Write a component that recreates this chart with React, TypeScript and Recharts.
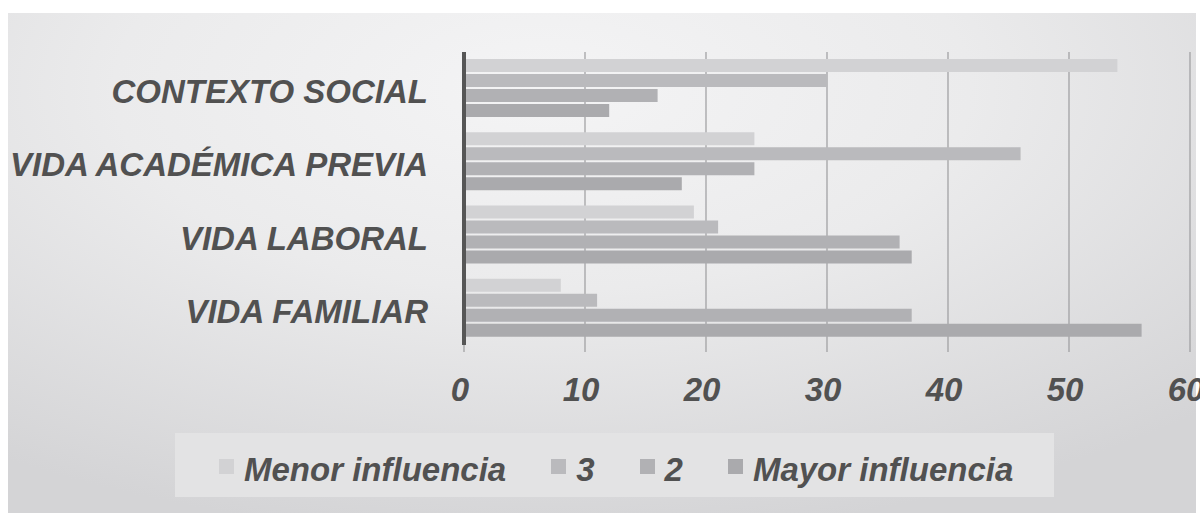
import React from "react";
import {
    BarChart,
    Bar,
    CartesianGrid,
    XAxis,
    YAxis,
    Legend,
} from "recharts";

const categories = [
    "CONTEXTO SOCIAL",
    "VIDA ACADÉMICA PREVIA",
    "VIDA LABORAL",
    "VIDA FAMILIAR",
];

const menorInfluencia = [54, 24, 19, 8];
const nivel3 = [30, 46, 21, 11];
const nivel2 = [16, 24, 36, 37];
const mayorInfluencia = [12, 18, 37, 56];

const xTicks = [0, 10, 20, 30, 40, 50, 60];

const series = [
    { key: "menor", name: "Menor influencia", color: "#d2d2d4" },
    { key: "n3", name: "3", color: "#bababd" },
    { key: "n2", name: "2", color: "#b1b1b4" },
    { key: "mayor", name: "Mayor influencia", color: "#aaaaad" },
];

const data = categories.map((label, i) => ({
    label,
    menor: menorInfluencia[i],
    n3: nivel3[i],
    n2: nivel2[i],
    mayor: mayorInfluencia[i],
}));

const FONT = '"Liberation Sans", Arial, sans-serif';
const TEXT = "#515151";

function CategoryTick({ x, y, payload }: any) {
    return (
        <text
            x={x}
            y={y}
            dy={14.5}
            textAnchor="end"
            fontFamily={FONT}
            fontSize={33}
            fontWeight="bold"
            fontStyle="italic"
            fill={TEXT}
        >
            {payload.value}
        </text>
    );
}

function ValueTick({ x, y, payload }: any) {
    return (
        <text
            x={x - 4}
            y={y}
            dy={48.6}
            textAnchor="middle"
            fontFamily={FONT}
            fontSize={33}
            fontWeight="bold"
            fontStyle="italic"
            fill={TEXT}
        >
            {payload.value}
        </text>
    );
}

function LegendBox() {
    return (
        <div
            style={{
                boxSizing: "border-box",
                height: 64,
                width: 879,
                paddingTop: 9,
                paddingLeft: 44,
                background: "#e3e3e4",
                display: "flex",
                alignItems: "center",
                lineHeight: "55px",
                fontFamily: FONT,
                fontSize: 33,
                fontWeight: "bold",
                fontStyle: "italic",
                color: TEXT,
            }}
        >
            {series.map((s, i) => (
                <div
                    key={s.key}
                    style={{
                        display: "flex",
                        alignItems: "center",
                        marginRight: i < series.length - 1 ? 45 : 0,
                    }}
                >
                    <span
                        style={{
                            display: "inline-block",
                            width: 15,
                            height: 15,
                            background: s.color,
                            marginRight: 10,
                            position: "relative",
                            top: -3,
                        }}
                    />
                    <span>{s.name}</span>
                </div>
            ))}
        </div>
    );
}

export default function App() {
    return (
        <div
            style={{
                position: "absolute",
                left: 0,
                top: 0,
                width: 1200,
                height: 513,
                background: "#ffffff",
                overflow: "hidden",
            }}
        >
            <div
                style={{
                    position: "absolute",
                    left: 8,
                    top: 13,
                    width: 1188,
                    height: 500,
                    background:
                        "radial-gradient(ellipse 80% 90% at 45% 15%, #f4f4f5 0%, #ebebec 45%, #d4d4d6 100%)",
                }}
            />
            <div style={{ position: "absolute", left: 0, top: 0 }}>
                <BarChart
                    width={1200}
                    height={513}
                    data={data}
                    layout="vertical"
                    margin={{ top: 52, right: 10, bottom: 16, left: 0 }}
                    barCategoryGap={7}
                    barGap={2}
                >
                    <CartesianGrid
                        horizontal={false}
                        stroke="#9c9c9e"
                        strokeWidth={1.2}
                    />
                    <XAxis
                        type="number"
                        domain={[0, 60]}
                        ticks={xTicks}
                        axisLine={false}
                        tickLine={{ stroke: "#9c9c9e", strokeWidth: 1.2 }}
                        tickSize={7}
                        tickMargin={0}
                        height={88}
                        interval={0}
                        tick={<ValueTick />}
                    />
                    <YAxis
                        type="category"
                        dataKey="label"
                        width={464}
                        axisLine={{ stroke: "#565656", strokeWidth: 4 }}
                        tickLine={false}
                        tickSize={0}
                        tickMargin={36}
                        interval={0}
                        tick={<CategoryTick />}
                    />
                    <Legend
                        verticalAlign="bottom"
                        content={() => <LegendBox />}
                        wrapperStyle={{ left: 175, width: 879, height: 64 }}
                    />
                    {series.map((s) => (
                        <Bar
                            key={s.key}
                            dataKey={s.key}
                            name={s.name}
                            fill={s.color}
                            isAnimationActive={false}
                        />
                    ))}
                </BarChart>
            </div>
        </div>
    );
}
